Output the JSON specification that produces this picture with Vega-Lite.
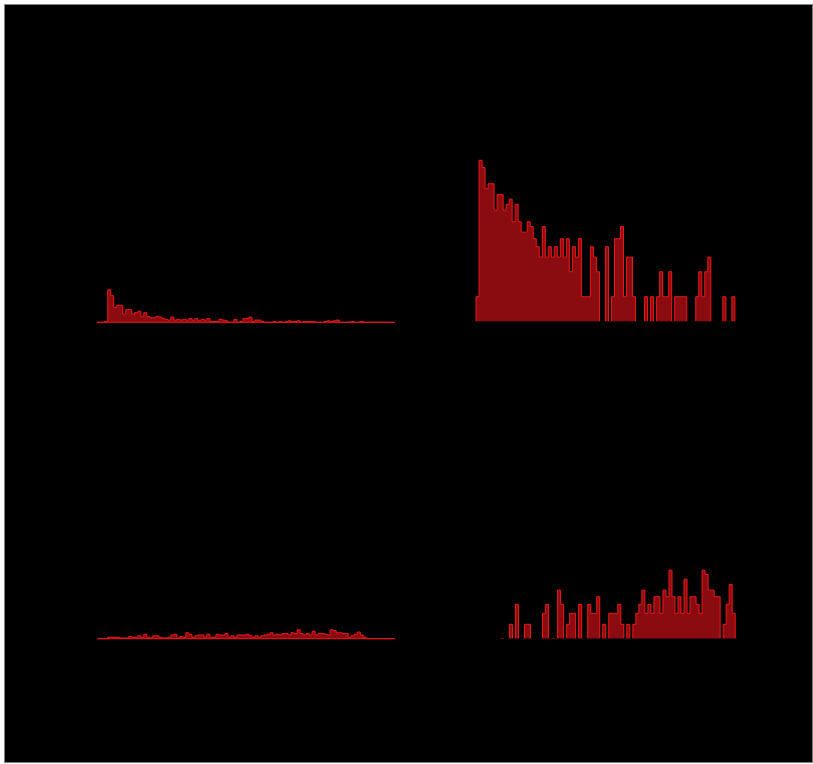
{
  "$schema": "https://vega.github.io/schema/vega-lite/v6.json",
  "width": 808,
  "height": 758,
  "autosize": {"type": "none"},
  "padding": {"left": 4, "top": 4, "right": 1, "bottom": 2},
  "background": "#ffffff",
  "view": {"fill": "#000000", "stroke": "#808080", "strokeWidth": 1},
  "config": {"axis": {"disable": true}},
  "datasets": {
    "counts": [
      {"set":"top","bin":0,"count":0},{"set":"top","bin":1,"count":0},{"set":"top","bin":2,"count":0},{"set":"top","bin":3,"count":1},
      {"set":"top","bin":4,"count":44},{"set":"top","bin":5,"count":36},{"set":"top","bin":6,"count":20},{"set":"top","bin":7,"count":23},
      {"set":"top","bin":8,"count":23},{"set":"top","bin":9,"count":11},{"set":"top","bin":10,"count":17},{"set":"top","bin":11,"count":17},
      {"set":"top","bin":12,"count":11},{"set":"top","bin":13,"count":13},{"set":"top","bin":14,"count":15},{"set":"top","bin":15,"count":8},
      {"set":"top","bin":16,"count":13},{"set":"top","bin":17,"count":8},{"set":"top","bin":18,"count":6},{"set":"top","bin":19,"count":6},
      {"set":"top","bin":20,"count":8},{"set":"top","bin":21,"count":7},{"set":"top","bin":22,"count":5},{"set":"top","bin":23,"count":4},
      {"set":"top","bin":24,"count":3},{"set":"top","bin":25,"count":7},{"set":"top","bin":26,"count":3},{"set":"top","bin":27,"count":4},
      {"set":"top","bin":28,"count":3},{"set":"top","bin":29,"count":4},{"set":"top","bin":30,"count":3},{"set":"top","bin":31,"count":5},
      {"set":"top","bin":32,"count":3},{"set":"top","bin":33,"count":5},{"set":"top","bin":34,"count":2},{"set":"top","bin":35,"count":4},
      {"set":"top","bin":36,"count":3},{"set":"top","bin":37,"count":5},{"set":"top","bin":38,"count":1},{"set":"top","bin":39,"count":1},
      {"set":"top","bin":40,"count":1},{"set":"top","bin":41,"count":4},{"set":"top","bin":42,"count":3},{"set":"top","bin":43,"count":2},
      {"set":"top","bin":44,"count":0},{"set":"top","bin":45,"count":0},{"set":"top","bin":46,"count":4},{"set":"top","bin":47,"count":0},
      {"set":"top","bin":48,"count":1},{"set":"top","bin":49,"count":5},{"set":"top","bin":50,"count":5},{"set":"top","bin":51,"count":7},
      {"set":"top","bin":52,"count":1},{"set":"top","bin":53,"count":3},{"set":"top","bin":54,"count":3},{"set":"top","bin":55,"count":1},
      {"set":"top","bin":56,"count":0},{"set":"top","bin":57,"count":0},{"set":"top","bin":58,"count":0},{"set":"top","bin":59,"count":1},
      {"set":"top","bin":60,"count":0},{"set":"top","bin":61,"count":1},{"set":"top","bin":62,"count":0},{"set":"top","bin":63,"count":1},
      {"set":"top","bin":64,"count":2},{"set":"top","bin":65,"count":1},{"set":"top","bin":66,"count":1},{"set":"top","bin":67,"count":2},
      {"set":"top","bin":68,"count":0},{"set":"top","bin":69,"count":1},{"set":"top","bin":70,"count":1},{"set":"top","bin":71,"count":1},
      {"set":"top","bin":72,"count":1},{"set":"top","bin":73,"count":0},{"set":"top","bin":74,"count":0},{"set":"top","bin":75,"count":0},
      {"set":"top","bin":76,"count":1},{"set":"top","bin":77,"count":2},{"set":"top","bin":78,"count":1},{"set":"top","bin":79,"count":2},
      {"set":"top","bin":80,"count":3},{"set":"top","bin":81,"count":0},{"set":"top","bin":82,"count":0},{"set":"top","bin":83,"count":0},
      {"set":"top","bin":84,"count":0},{"set":"top","bin":85,"count":1},{"set":"top","bin":86,"count":0},{"set":"top","bin":87,"count":0},
      {"set":"top","bin":88,"count":1},{"set":"top","bin":89,"count":0},{"set":"top","bin":90,"count":0},{"set":"top","bin":91,"count":0},
      {"set":"top","bin":92,"count":0},{"set":"top","bin":93,"count":0},{"set":"top","bin":94,"count":0},{"set":"top","bin":95,"count":0},
      {"set":"top","bin":96,"count":0},{"set":"top","bin":97,"count":0},{"set":"top","bin":98,"count":0},{"set":"top","bin":99,"count":0},

      {"set":"bottom","bin":0,"count":0},{"set":"bottom","bin":1,"count":0},{"set":"bottom","bin":2,"count":0},{"set":"bottom","bin":3,"count":0},
      {"set":"bottom","bin":4,"count":2},{"set":"bottom","bin":5,"count":2},{"set":"bottom","bin":6,"count":2},{"set":"bottom","bin":7,"count":2},
      {"set":"bottom","bin":8,"count":1},{"set":"bottom","bin":9,"count":1},{"set":"bottom","bin":10,"count":1},{"set":"bottom","bin":11,"count":3},
      {"set":"bottom","bin":12,"count":2},{"set":"bottom","bin":13,"count":2},{"set":"bottom","bin":14,"count":4},{"set":"bottom","bin":15,"count":2},
      {"set":"bottom","bin":16,"count":6},{"set":"bottom","bin":17,"count":2},{"set":"bottom","bin":18,"count":1},{"set":"bottom","bin":19,"count":4},
      {"set":"bottom","bin":20,"count":4},{"set":"bottom","bin":21,"count":2},{"set":"bottom","bin":22,"count":1},{"set":"bottom","bin":23,"count":1},
      {"set":"bottom","bin":24,"count":2},{"set":"bottom","bin":25,"count":5},{"set":"bottom","bin":26,"count":6},{"set":"bottom","bin":27,"count":1},
      {"set":"bottom","bin":28,"count":3},{"set":"bottom","bin":29,"count":2},{"set":"bottom","bin":30,"count":8},{"set":"bottom","bin":31,"count":6},
      {"set":"bottom","bin":32,"count":2},{"set":"bottom","bin":33,"count":4},{"set":"bottom","bin":34,"count":5},{"set":"bottom","bin":35,"count":5},
      {"set":"bottom","bin":36,"count":2},{"set":"bottom","bin":37,"count":6},{"set":"bottom","bin":38,"count":2},{"set":"bottom","bin":39,"count":2},
      {"set":"bottom","bin":40,"count":6},{"set":"bottom","bin":41,"count":5},{"set":"bottom","bin":42,"count":5},{"set":"bottom","bin":43,"count":7},
      {"set":"bottom","bin":44,"count":2},{"set":"bottom","bin":45,"count":4},{"set":"bottom","bin":46,"count":2},{"set":"bottom","bin":47,"count":5},
      {"set":"bottom","bin":48,"count":5},{"set":"bottom","bin":49,"count":5},{"set":"bottom","bin":50,"count":6},{"set":"bottom","bin":51,"count":4},
      {"set":"bottom","bin":52,"count":2},{"set":"bottom","bin":53,"count":4},{"set":"bottom","bin":54,"count":2},{"set":"bottom","bin":55,"count":4},
      {"set":"bottom","bin":56,"count":5},{"set":"bottom","bin":57,"count":6},{"set":"bottom","bin":58,"count":8},{"set":"bottom","bin":59,"count":5},
      {"set":"bottom","bin":60,"count":6},{"set":"bottom","bin":61,"count":5},{"set":"bottom","bin":62,"count":7},{"set":"bottom","bin":63,"count":7},
      {"set":"bottom","bin":64,"count":5},{"set":"bottom","bin":65,"count":8},{"set":"bottom","bin":66,"count":7},{"set":"bottom","bin":67,"count":12},
      {"set":"bottom","bin":68,"count":7},{"set":"bottom","bin":69,"count":5},{"set":"bottom","bin":70,"count":7},{"set":"bottom","bin":71,"count":5},
      {"set":"bottom","bin":72,"count":10},{"set":"bottom","bin":73,"count":5},{"set":"bottom","bin":74,"count":7},{"set":"bottom","bin":75,"count":7},
      {"set":"bottom","bin":76,"count":6},{"set":"bottom","bin":77,"count":5},{"set":"bottom","bin":78,"count":12},{"set":"bottom","bin":79,"count":11},
      {"set":"bottom","bin":80,"count":8},{"set":"bottom","bin":81,"count":8},{"set":"bottom","bin":82,"count":7},{"set":"bottom","bin":83,"count":7},
      {"set":"bottom","bin":84,"count":2},{"set":"bottom","bin":85,"count":4},{"set":"bottom","bin":86,"count":6},{"set":"bottom","bin":87,"count":9},
      {"set":"bottom","bin":88,"count":5},{"set":"bottom","bin":89,"count":2},{"set":"bottom","bin":90,"count":0},{"set":"bottom","bin":91,"count":0},
      {"set":"bottom","bin":92,"count":0},{"set":"bottom","bin":93,"count":0},{"set":"bottom","bin":94,"count":0},{"set":"bottom","bin":95,"count":0},
      {"set":"bottom","bin":96,"count":0},{"set":"bottom","bin":97,"count":0},{"set":"bottom","bin":98,"count":0},{"set":"bottom","bin":99,"count":0}
    ],
    "base": [{}]
  },
  "data": {"name": "counts"},
  "resolve": {"scale": {"x": "independent", "y": "independent"}},
  "layer": [
    {
      "transform": [{"filter": "datum.set === 'top'"}],
      "mark": {"type": "area", "interpolate": "step", "fill": "#8a0c10", "stroke": "#f01818", "strokeWidth": 1},
      "encoding": {
        "x": {"field": "bin", "type": "quantitative", "scale": {"domain": [-0.5, 99.5], "range": [91.7, 392.3], "nice": false, "zero": false}},
        "y": {"field": "count", "type": "quantitative", "scale": {"domain": [0, 360], "range": [318.3, 51.9], "nice": false}},
        "y2": {"datum": 0}
      }
    },
    {
      "transform": [{"filter": "datum.set === 'bottom'"}],
      "mark": {"type": "area", "interpolate": "step", "fill": "#8a0c10", "stroke": "#f01818", "strokeWidth": 1},
      "encoding": {
        "x": {"field": "bin", "type": "quantitative", "scale": {"domain": [-0.5, 99.5], "range": [91.7, 392.3], "nice": false, "zero": false}},
        "y": {"field": "count", "type": "quantitative", "scale": {"domain": [0, 360], "range": [634.7, 368.3], "nice": false}},
        "y2": {"datum": 0}
      }
    },
    {
      "transform": [{"filter": "datum.set === 'top'"}],
      "mark": {"type": "area", "interpolate": "step", "fill": "#8a0c10", "stroke": "#f01818", "strokeWidth": 1},
      "encoding": {
        "x": {"field": "bin", "type": "quantitative", "scale": {"domain": [-0.5, 99.5], "range": [463.0, 764.0], "nice": false, "zero": false}},
        "y": {"field": "count", "type": "quantitative", "scale": {"type": "symlog", "constant": 0.001, "domain": [0.486, 486], "range": [318.7, 69.7], "nice": false, "clamp": true}},
        "y2": {"datum": 0.486}
      }
    },
    {
      "data": {"name": "base"},
      "mark": {"type": "rule", "stroke": "#000000", "strokeWidth": 2.8},
      "encoding": {
        "x": {"datum": -0.5, "type": "quantitative", "scale": {"domain": [-0.5, 99.5], "range": [463.0, 764.0], "nice": false, "zero": false}},
        "x2": {"datum": 99.5},
        "y": {"datum": 0.486, "type": "quantitative", "scale": {"type": "symlog", "constant": 0.001, "domain": [0.486, 486], "range": [318.7, 69.7], "nice": false, "clamp": true}}
      }
    },
    {
      "transform": [{"filter": "datum.set === 'bottom'"}],
      "mark": {"type": "area", "interpolate": "step", "fill": "#8a0c10", "stroke": "#f01818", "strokeWidth": 1},
      "encoding": {
        "x": {"field": "bin", "type": "quantitative", "scale": {"domain": [-0.5, 99.5], "range": [463.3, 764.3], "nice": false, "zero": false}},
        "y": {"field": "count", "type": "quantitative", "scale": {"type": "symlog", "constant": 0.001, "domain": [2.91, 291], "range": [636, 409], "nice": false, "clamp": true}},
        "y2": {"datum": 2.91}
      }
    },
    {
      "data": {"name": "base"},
      "mark": {"type": "rule", "stroke": "#000000", "strokeWidth": 2.8},
      "encoding": {
        "x": {"datum": -0.5, "type": "quantitative", "scale": {"domain": [-0.5, 99.5], "range": [463.3, 764.3], "nice": false, "zero": false}},
        "x2": {"datum": 99.5},
        "y": {"datum": 2.91, "type": "quantitative", "scale": {"type": "symlog", "constant": 0.001, "domain": [2.91, 291], "range": [636, 409], "nice": false, "clamp": true}}
      }
    }
  ]
}
